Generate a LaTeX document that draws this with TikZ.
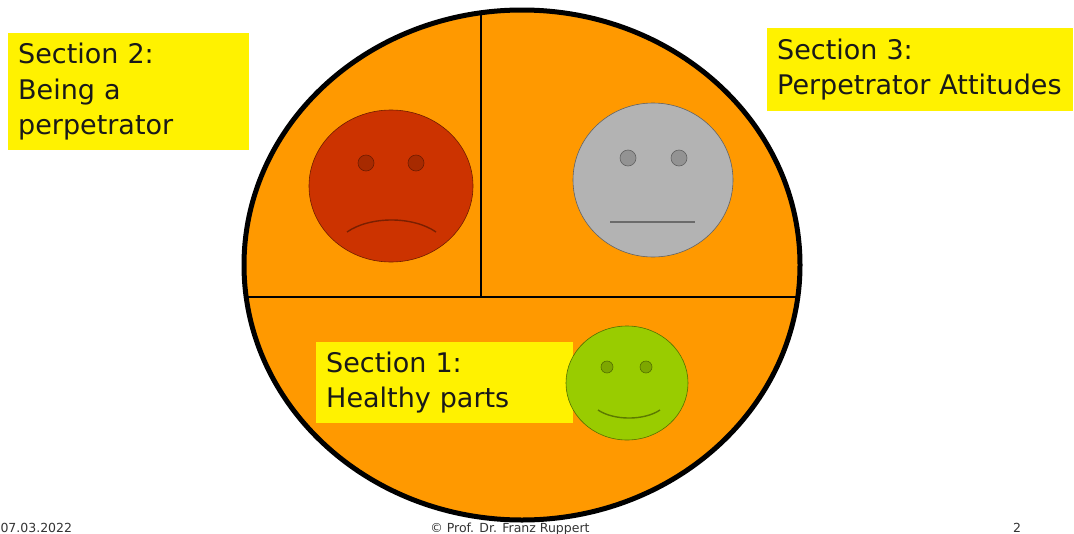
\documentclass[tikz,border=0pt]{standalone}
\usepackage{fontspec}
\setmainfont{DejaVu Sans}
\usetikzlibrary{shapes.geometric}
\definecolor{plateorange}{HTML}{FF9900}
\definecolor{sadred}{HTML}{CC3300}
\definecolor{flatgray}{HTML}{B3B3B3}
\definecolor{happygreen}{HTML}{99CC00}
\definecolor{notegray}{HTML}{333333}

\begin{document}
\begin{tikzpicture}[x=1pt, y=-1pt,
  sectionbox/.style={fill=yellow, anchor=north west, align=left, inner xsep=10pt, inner ysep=0pt,
    text=black!90, font=\fontsize{27}{35.5}\selectfont},
  face/.style={draw=#1!55!black, line width=0.6pt, fill=#1, ellipse},
  eye/.style={draw=#1!55!black, line width=0.6pt, fill=#1!82!black},
  mouth/.style={draw=#1!60!black, line width=1.4pt},
  footnote/.style={text=notegray, font=\fontsize{12.5}{14}\selectfont, anchor=base}]
\useasboundingbox (0,0) rectangle (1074,533);

% the plate with its three sections
\begin{scope}
\clip (522,265) ellipse [x radius=278, y radius=255];
\fill[plateorange] (522,265) ellipse [x radius=278, y radius=255];
\draw[line width=2.6pt] (200,297) -- (850,297);
\draw[line width=2.6pt] (481,297) -- (481,-20);
\end{scope}
\draw[line width=5pt] (522,265) ellipse [x radius=278, y radius=255];

% section labels
\node (sec2)[sectionbox, text width=221, minimum height=117] at (8,33) {Section 2:\\Being a\\perpetrator};
\node (sec3)[sectionbox, text width=286, minimum height=83] at (767,28) {Section 3:\\Perpetrator Attitudes};
\node (sec1)[sectionbox, text width=237, minimum height=81] at (316,342) {Section 1:\\Healthy parts};

% faces
\node (sad)[face=sadred, minimum width=164, minimum height=152] at (391,186) {};
\draw[eye=sadred] (366,163) circle (8);
\draw[eye=sadred] (416,163) circle (8);
\draw[mouth=sadred] (347,232) .. controls (370,216) and (413,216) .. (436,232);

\node (flat)[face=flatgray, minimum width=160, minimum height=154] at (653,180) {};
\draw[eye=flatgray] (628,158) circle (8);
\draw[eye=flatgray] (679,158) circle (8);
\draw[mouth=flatgray] (610,222) -- (695,222);

\node (happy)[face=happygreen, minimum width=122, minimum height=114] at (627,383) {};
\draw[eye=happygreen] (607,367) circle (6);
\draw[eye=happygreen] (646,367) circle (6);
\draw[mouth=happygreen] (598,410) .. controls (614,420.7) and (644,420.7) .. (660,410);

% footer
\node (date)[footnote, anchor=base west] at (-3,532) {07.03.2022};
\node (author)[footnote] at (510,532) {© Prof. Dr. Franz Ruppert};
\node (page)[footnote] at (1017,532) {2};
\end{tikzpicture}
\end{document}
